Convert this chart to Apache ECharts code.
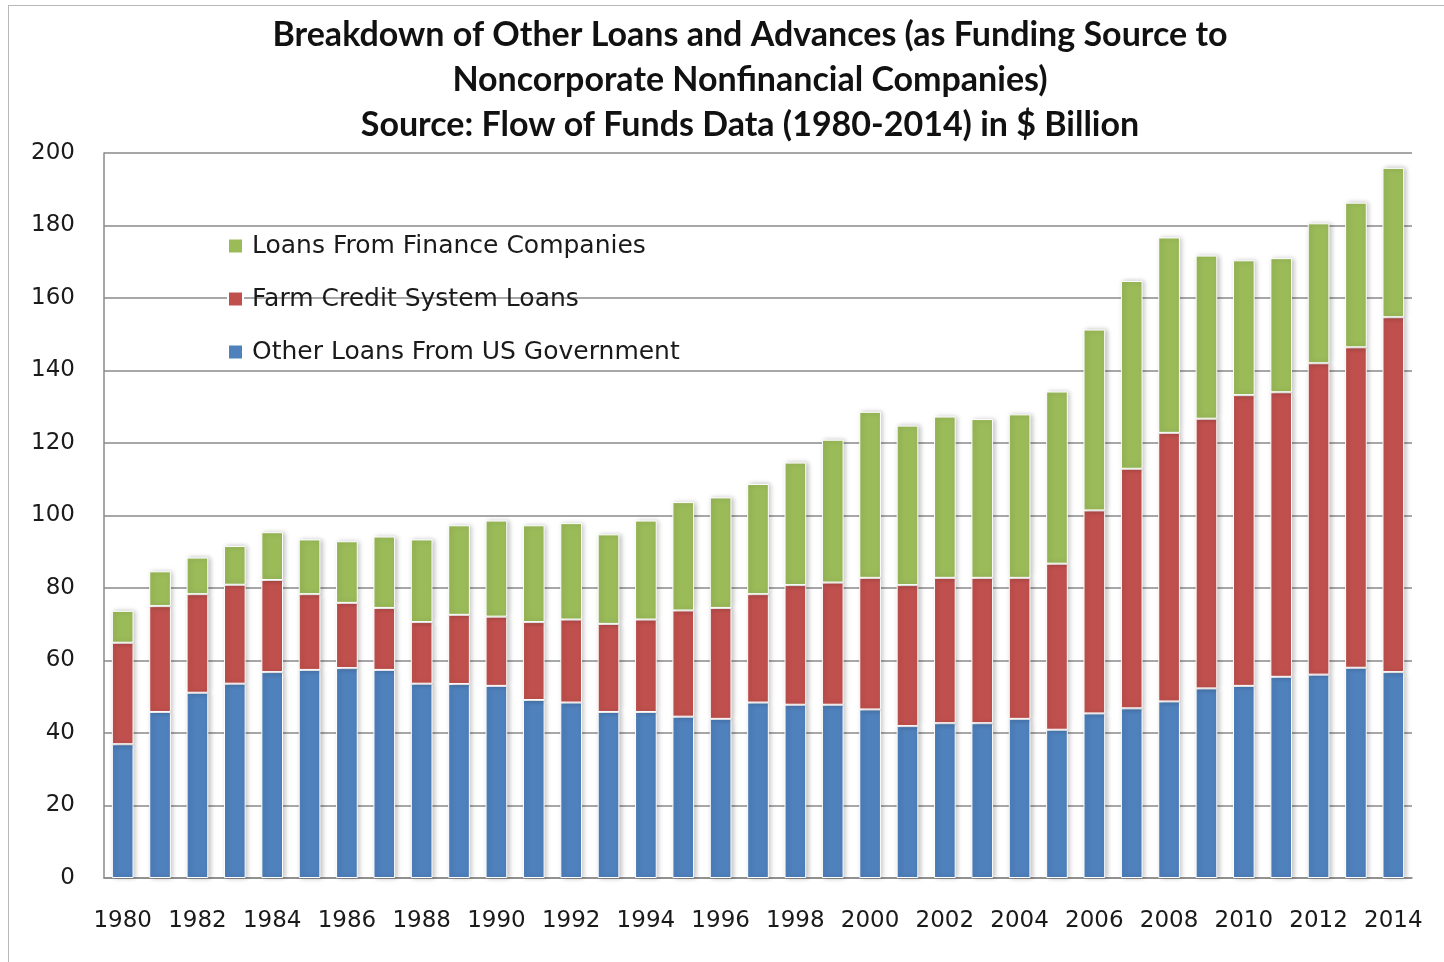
<!DOCTYPE html>
<html>
<head>
<meta charset="utf-8">
<script src="https://cdn.jsdelivr.net/npm/echarts@6/dist/echarts.min.js"></script>
<style>
html,body{margin:0;padding:0;background:#fff;}
#frame{position:absolute;left:8px;top:5px;width:1450px;height:980px;border:1.5px solid #b8b8b8;box-sizing:border-box;}
#chart{position:absolute;left:0;top:0;width:1444px;height:962px;}
</style>
</head>
<body>
<div id="frame"></div>
<div id="chart"></div>
<script>
const years = ['1980','1981','1982','1983','1984','1985','1986','1987','1988','1989','1990','1991','1992','1993','1994','1995','1996','1997','1998','1999','2000','2001','2002','2003','2004','2005','2006','2007','2008','2009','2010','2011','2012','2013','2014'];
const usGovLoans = [36.9,45.8,51.1,53.6,56.8,57.4,57.9,57.4,53.6,53.5,53.0,49.1,48.4,45.8,45.8,44.5,43.9,48.4,47.8,47.8,46.5,41.9,42.7,42.7,43.9,40.9,45.4,46.8,48.7,52.3,53.0,55.5,56.1,58.0,56.8];
const farmCreditLoans = [28.0,29.2,27.2,27.3,25.4,20.9,18.0,17.1,17.0,19.1,19.1,21.5,22.9,24.3,25.5,29.3,30.6,29.9,33.0,33.7,36.3,38.9,40.1,40.1,38.9,45.8,56.0,66.1,74.1,74.4,80.2,78.5,85.9,88.4,97.9];
const financeCoLoans = [8.8,9.6,10.1,10.7,13.2,15.1,17.0,19.7,22.8,24.7,26.5,26.7,26.6,24.7,27.3,29.9,30.5,30.4,33.8,39.4,45.8,44.0,44.5,43.8,45.1,47.5,49.9,51.8,53.9,45.0,37.2,37.0,38.6,39.9,41.2];
const seriesNames = ['Loans From Finance Companies','Farm Credit System Loans','Other Loans From US Government'];
const titleText = 'Breakdown of Other Loans and Advances (as Funding Source to\nNoncorporate Nonfinancial Companies)\nSource: Flow of Funds Data (1980-2014) in $ Billion';

const chart = echarts.init(document.getElementById('chart'), null, {renderer:'canvas'});
const barStyle = (c) => ({color:c, borderColor:'#ffffff', borderWidth:1, shadowBlur:5, shadowColor:'rgba(0,0,0,0.25)', shadowOffsetX:2, shadowOffsetY:0});
chart.setOption({
  animation:false,
  backgroundColor:'transparent',
  title:{
    text:titleText,
    left:745, top:8, textAlign:'center',
    textStyle:{fontFamily:'Lato', fontWeight:'bold', fontSize:34, lineHeight:45, color:'#111'}
  },
  legend:{
    data:seriesNames,
    orient:'vertical',
    left:222, top:228,
    itemWidth:15, itemHeight:15, itemGap:27,
    icon:'rect',
    textStyle:{fontFamily:'DejaVu Sans', fontSize:25, color:'#1a1a1a', lineHeight:26, padding:[0,0,0,4]}
  },
  grid:{left:104, right:32, top:153, bottom:84, containLabel:false},
  xAxis:{
    type:'category', data:years,
    axisLine:{lineStyle:{color:'#8a8a8a', width:1.5}},
    axisTick:{show:false},
    axisLabel:{interval:1, fontFamily:'DejaVu Sans', fontSize:23, color:'#1a1a1a', margin:32}
  },
  yAxis:{
    type:'value', min:0, max:200, interval:20,
    axisLine:{show:true, lineStyle:{color:'#8a8a8a', width:1.5}},
    axisTick:{show:false},
    splitLine:{lineStyle:{color:'#8a8a8a', width:1.5}},
    axisLabel:{fontFamily:'DejaVu Sans', fontSize:23, color:'#1a1a1a', margin:29, padding:[10,0,0,0]}
  },
  series:[
    {name:seriesNames[2], type:'bar', stack:'t', data:usGovLoans, barWidth:'58%', itemStyle:barStyle('#4f81bd')},
    {name:seriesNames[1], type:'bar', stack:'t', data:farmCreditLoans, barWidth:'58%', itemStyle:barStyle('#c0504d')},
    {name:seriesNames[0], type:'bar', stack:'t', data:financeCoLoans, barWidth:'58%', itemStyle:barStyle('#9bbb59')}
  ]
});
</script>
</body>
</html>
